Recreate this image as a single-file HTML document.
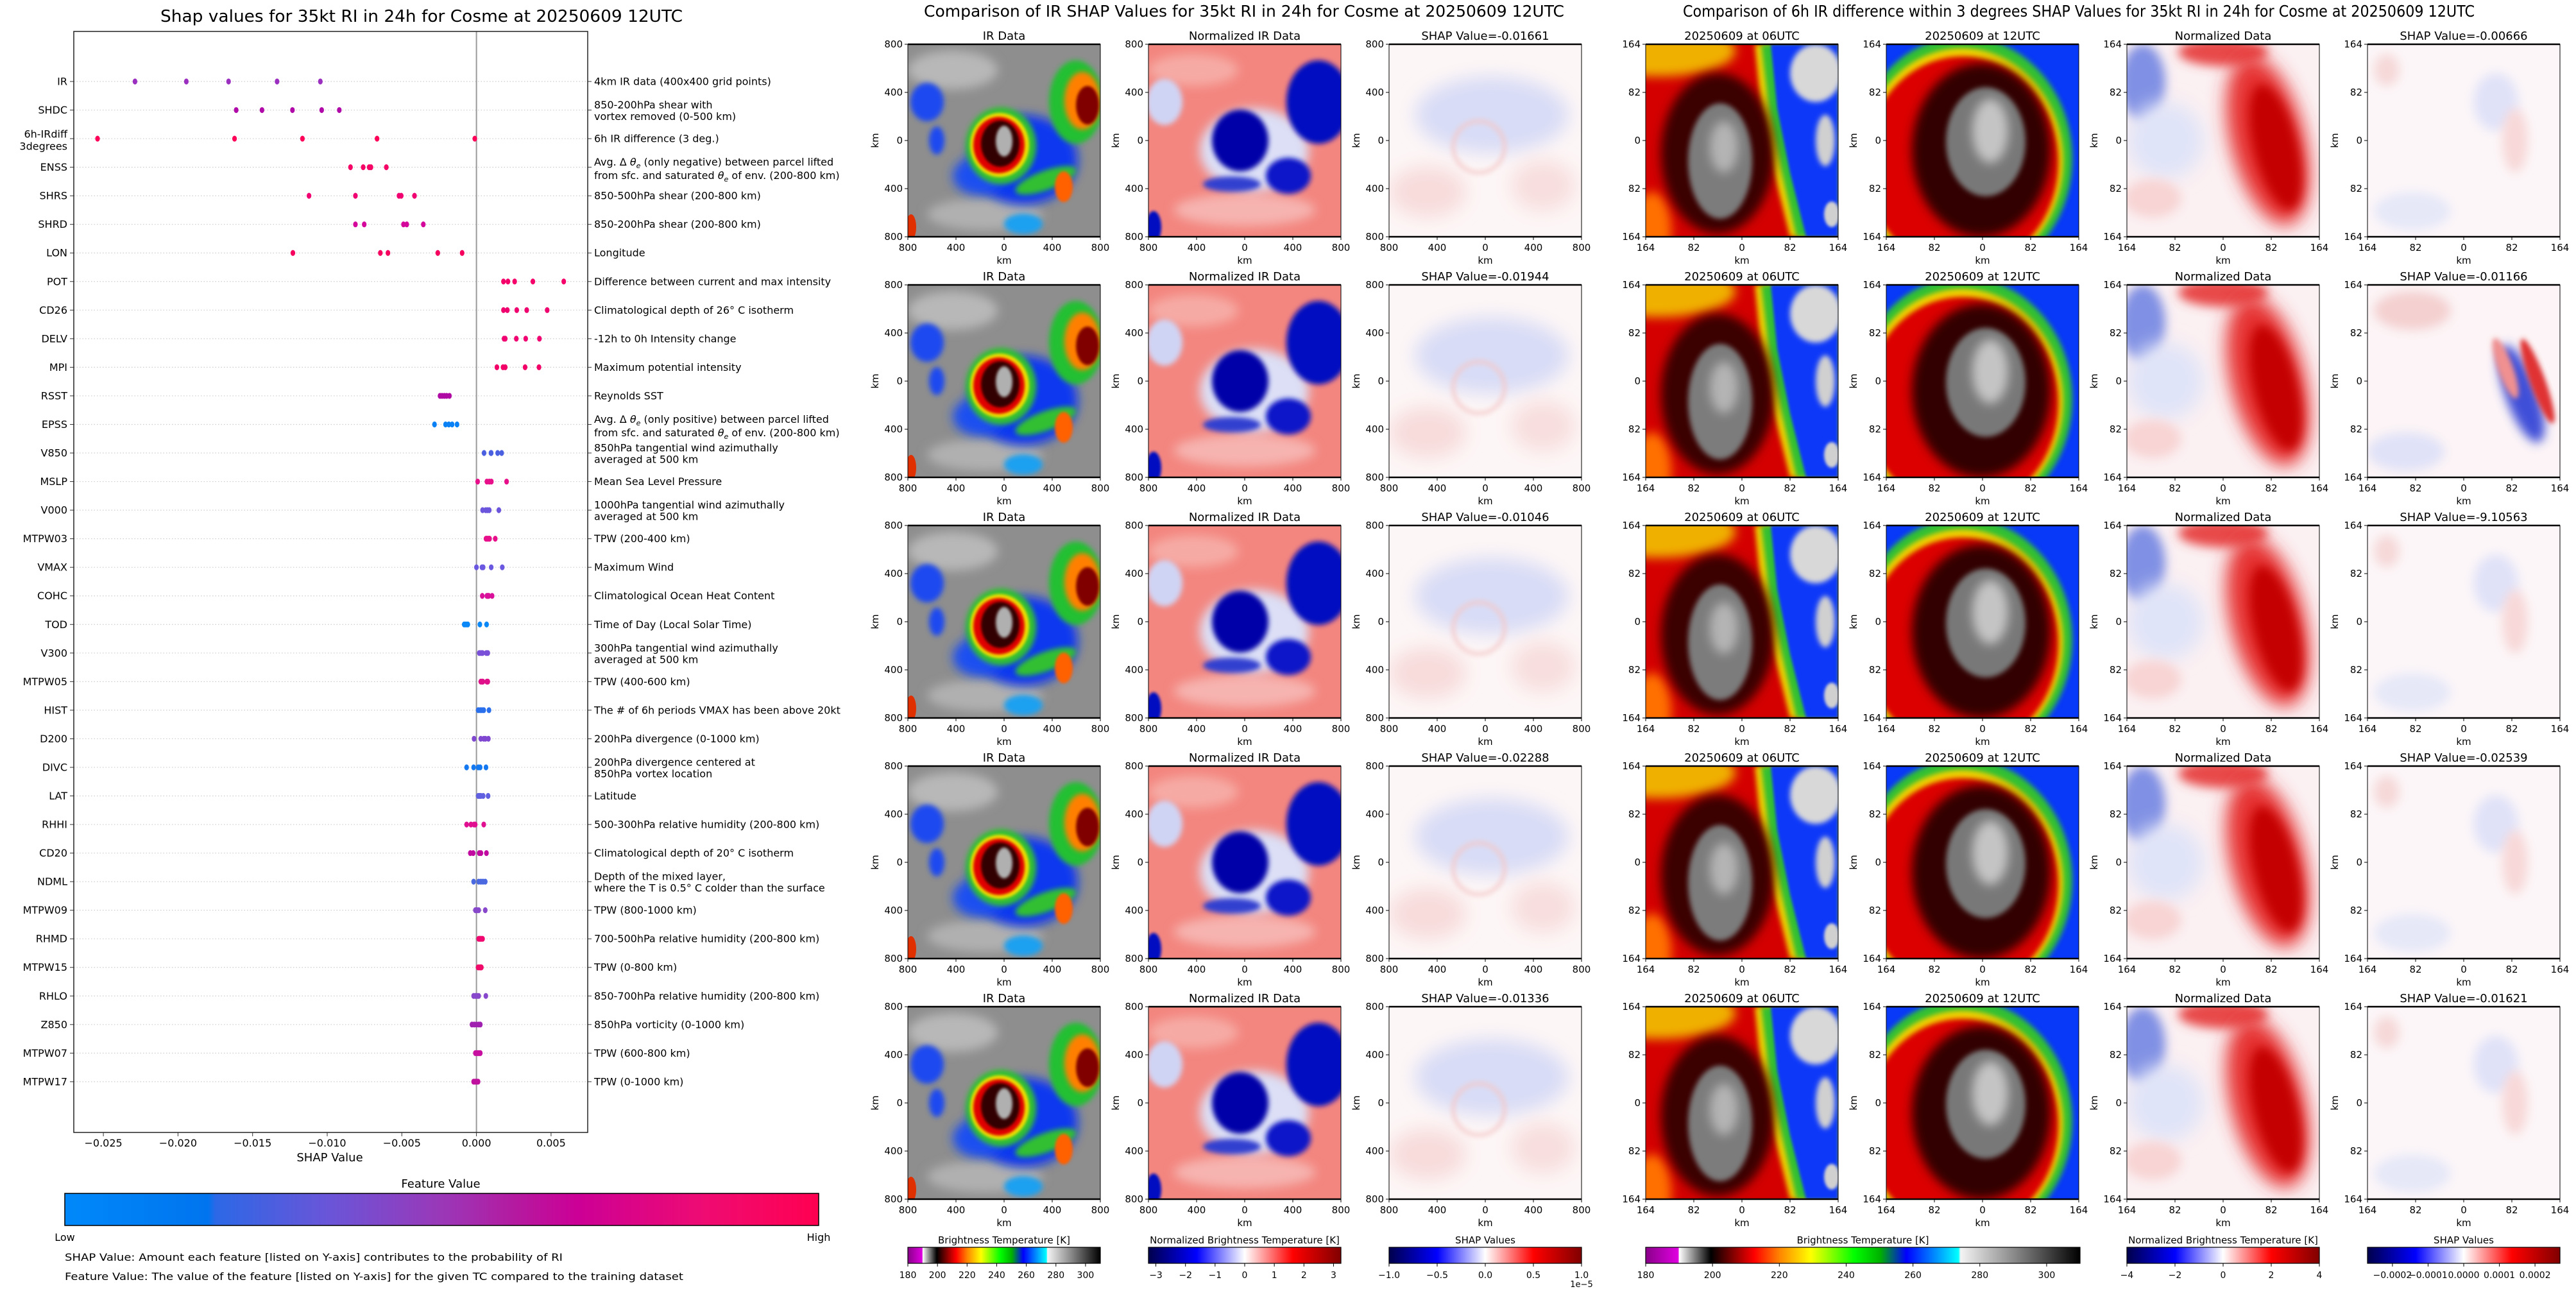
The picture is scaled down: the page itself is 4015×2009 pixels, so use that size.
<!DOCTYPE html>
<html><head><meta charset="utf-8"><title>SHAP RI chart</title>
<style>
html,body{margin:0;padding:0;background:#fff;}
svg{display:block;font-family:"DejaVu Sans","Liberation Sans",sans-serif;}
</style></head>
<body>
<svg id="fig" width="4015" height="2009" viewBox="0 0 4015 2009" xmlns="http://www.w3.org/2000/svg">
<defs>
<filter id="b2" x="-20%" y="-20%" width="140%" height="140%"><feGaussianBlur stdDeviation="2"/></filter>
<filter id="b4" x="-30%" y="-30%" width="160%" height="160%"><feGaussianBlur stdDeviation="4"/></filter>
<filter id="b8" x="-40%" y="-40%" width="180%" height="180%"><feGaussianBlur stdDeviation="8"/></filter>
<filter id="b14" x="-50%" y="-50%" width="200%" height="200%"><feGaussianBlur stdDeviation="14"/></filter>
<clipPath id="pclip"><rect width="300" height="300"/></clipPath>
<linearGradient id="gShap" x1="0" x2="1" y1="0" y2="0">
<stop offset="0" stop-color="#0089fa"/><stop offset="0.19" stop-color="#0074ee"/><stop offset="0.2" stop-color="#2c68e6"/>
<stop offset="0.35" stop-color="#6a55d8"/><stop offset="0.5" stop-color="#9a38b8"/><stop offset="0.6" stop-color="#b5199f"/>
<stop offset="0.68" stop-color="#cc0096"/><stop offset="0.85" stop-color="#ef0b72"/><stop offset="1" stop-color="#ff0051"/></linearGradient>
<linearGradient id="gBT" x1="0" x2="1" y1="0" y2="0">
<stop offset="0" stop-color="#8a008a"/><stop offset="0.075" stop-color="#e000e0"/><stop offset="0.077" stop-color="#ffffff"/>
<stop offset="0.15" stop-color="#000000"/><stop offset="0.25" stop-color="#ff0000"/><stop offset="0.31" stop-color="#ff8800"/>
<stop offset="0.38" stop-color="#ffff00"/><stop offset="0.48" stop-color="#00ff00"/><stop offset="0.54" stop-color="#00b000"/>
<stop offset="0.6" stop-color="#0000ff"/><stop offset="0.72" stop-color="#00ffff"/><stop offset="0.725" stop-color="#f4f4f4"/>
<stop offset="0.85" stop-color="#888888"/><stop offset="1" stop-color="#000000"/></linearGradient>
<linearGradient id="gSeis" x1="0" x2="1" y1="0" y2="0">
<stop offset="0" stop-color="#00004c"/><stop offset="0.25" stop-color="#0000ff"/><stop offset="0.5" stop-color="#ffffff"/>
<stop offset="0.75" stop-color="#ff0000"/><stop offset="1" stop-color="#800000"/></linearGradient>

<symbol id="irImg" viewBox="0 0 300 300">
<rect width="300" height="300" fill="#8e8e8e"/>
<ellipse cx="70" cy="40" rx="70" ry="30" fill="#b8b8b8" filter="url(#b8)"/>
<ellipse cx="120" cy="265" rx="90" ry="25" fill="#b0b0b0" filter="url(#b8)"/>
<ellipse cx="180" cy="180" rx="85" ry="70" fill="#1038f0" filter="url(#b8)"/>
<ellipse cx="110" cy="205" rx="40" ry="30" fill="#1a50f0" filter="url(#b8)"/>
<ellipse cx="30" cy="90" rx="26" ry="30" fill="#1a48f0" filter="url(#b4)"/>
<ellipse cx="180" cy="280" rx="30" ry="16" fill="#1aa0f0" filter="url(#b4)"/>
<ellipse cx="45" cy="150" rx="12" ry="22" fill="#1a48f0" filter="url(#b4)"/>
<ellipse cx="262" cy="90" rx="42" ry="65" fill="#20c030" filter="url(#b4)"/>
<ellipse cx="272" cy="88" rx="28" ry="45" fill="#ff8000" filter="url(#b4)"/>
<ellipse cx="280" cy="95" rx="18" ry="30" fill="#800000" filter="url(#b2)"/>
<ellipse cx="215" cy="212" rx="50" ry="15" transform="rotate(-20 215 212)" fill="#30c030" filter="url(#b4)"/>
<ellipse cx="243" cy="222" rx="14" ry="24" fill="#ff6000" filter="url(#b2)"/>
<ellipse cx="145" cy="158" rx="55" ry="60" fill="#30c030" filter="url(#b4)"/>
<ellipse cx="143" cy="157" rx="46" ry="50" fill="#f0e000" filter="url(#b2)"/>
<ellipse cx="142" cy="157" rx="40" ry="44" fill="#e00000" filter="url(#b2)"/>
<ellipse cx="144" cy="155" rx="30" ry="36" fill="#300000" filter="url(#b2)"/>
<ellipse cx="150" cy="151" rx="13" ry="24" fill="#b0b0b0" filter="url(#b2)"/>
<ellipse cx="5" cy="285" rx="8" ry="20" fill="#e03000"/>
</symbol>

<symbol id="normImg" viewBox="0 0 300 300">
<rect width="300" height="300" fill="#f3867f"/>
<ellipse cx="70" cy="40" rx="70" ry="25" fill="#f6aaa4" filter="url(#b8)"/>
<ellipse cx="150" cy="258" rx="110" ry="25" fill="#f6b4b0" filter="url(#b8)"/>
<ellipse cx="25" cy="90" rx="28" ry="36" fill="#d0d4f4" filter="url(#b4)"/>
<ellipse cx="165" cy="165" rx="85" ry="65" fill="#dcdff6" filter="url(#b8)"/>
<ellipse cx="265" cy="90" rx="50" ry="65" fill="#0010c0" filter="url(#b4)"/>
<ellipse cx="143" cy="150" rx="44" ry="48" fill="#0000a8" filter="url(#b4)"/>
<ellipse cx="218" cy="205" rx="35" ry="28" fill="#0818c8" filter="url(#b4)"/>
<ellipse cx="130" cy="218" rx="45" ry="12" fill="#3040d0" filter="url(#b4)"/>
<ellipse cx="8" cy="285" rx="12" ry="25" fill="#0010c0" filter="url(#b2)"/>
</symbol>

<symbol id="shapIrImg" viewBox="0 0 300 300">
<rect width="300" height="300" fill="#fdf6f6"/>
<ellipse cx="160" cy="110" rx="120" ry="60" fill="#d8dcf6" filter="url(#b14)"/>
<ellipse cx="60" cy="230" rx="60" ry="40" fill="#f8dcdc" filter="url(#b14)"/>
<ellipse cx="240" cy="220" rx="50" ry="40" fill="#f8dede" filter="url(#b14)"/>
<ellipse cx="140" cy="160" rx="40" ry="40" fill="none" stroke="#f4c8c8" stroke-width="5" filter="url(#b4)"/>
</symbol>

<symbol id="t06Img" viewBox="0 0 300 300">
<rect width="300" height="300" fill="#d40000"/>
<ellipse cx="20" cy="10" rx="120" ry="40" fill="#f0b000" filter="url(#b8)"/>
<ellipse cx="10" cy="290" rx="30" ry="60" fill="#ff7000" filter="url(#b8)"/>
<polygon points="170,0 300,0 300,300 225,300 200,200 180,100" fill="#f0d000" filter="url(#b4)"/>
<polygon points="180,0 300,0 300,300 235,300 212,200 192,100" fill="#30c030" filter="url(#b4)"/>
<polygon points="195,0 300,0 300,300 250,300 225,200 205,100" fill="#0838f8" filter="url(#b2)"/>
<ellipse cx="265" cy="45" rx="40" ry="45" fill="#d8d8d8" filter="url(#b4)"/>
<ellipse cx="280" cy="150" rx="15" ry="40" fill="#d0d0d0" filter="url(#b4)"/>
<ellipse cx="290" cy="265" rx="12" ry="20" fill="#d0d0d0" filter="url(#b2)"/>
<ellipse cx="112" cy="170" rx="88" ry="125" fill="#3a0000" filter="url(#b8)"/>
<ellipse cx="116" cy="182" rx="50" ry="90" fill="#7c7c7c" filter="url(#b4)"/>
<ellipse cx="122" cy="160" rx="22" ry="40" fill="#b4b4b4" filter="url(#b8)"/>
</symbol>

<symbol id="t12Img" viewBox="0 0 300 300">
<rect width="300" height="300" fill="#0838f8"/>
<ellipse cx="120" cy="178" rx="170" ry="190" fill="#30c030" filter="url(#b4)"/>
<ellipse cx="118" cy="182" rx="158" ry="176" fill="#f0d000" filter="url(#b4)"/>
<ellipse cx="118" cy="185" rx="150" ry="166" fill="#dc0000" filter="url(#b4)"/>
<ellipse cx="148" cy="165" rx="108" ry="135" fill="#320000" filter="url(#b8)"/>
<ellipse cx="155" cy="152" rx="62" ry="85" fill="#787878" filter="url(#b4)"/>
<ellipse cx="162" cy="135" rx="28" ry="50" fill="#c4c4c4" filter="url(#b8)"/>
</symbol>

<symbol id="normdImg" viewBox="0 0 300 300">
<rect width="300" height="300" fill="#fbf0f2"/>
<ellipse cx="25" cy="60" rx="35" ry="60" fill="#8090e4" filter="url(#b8)"/>
<ellipse cx="60" cy="150" rx="60" ry="60" fill="#e0e4f8" filter="url(#b14)"/>
<ellipse cx="150" cy="12" rx="70" ry="22" fill="#e84848" filter="url(#b8)"/>
<ellipse cx="40" cy="240" rx="45" ry="30" fill="#f8d4d4" filter="url(#b8)"/>
<ellipse cx="220" cy="150" rx="58" ry="135" transform="rotate(-14 220 150)" fill="#e63030" filter="url(#b14)"/>
<ellipse cx="232" cy="160" rx="34" ry="100" transform="rotate(-14 232 160)" fill="#c40000" filter="url(#b8)"/>
</symbol>

<symbol id="shap6Img" viewBox="0 0 300 300">
<rect width="300" height="300" fill="#fcf6f8"/>
<ellipse cx="200" cy="90" rx="35" ry="45" fill="#e0e2f8" filter="url(#b8)"/>
<ellipse cx="70" cy="260" rx="60" ry="30" fill="#e6e8f8" filter="url(#b8)"/>
<ellipse cx="230" cy="150" rx="20" ry="50" fill="#f8d8d8" filter="url(#b8)"/>
<ellipse cx="30" cy="40" rx="20" ry="25" fill="#f6d8d8" filter="url(#b8)"/>
</symbol>
<symbol id="shap6Strong" viewBox="0 0 300 300">
<rect width="300" height="300" fill="#fcf4f6"/>
<ellipse cx="70" cy="40" rx="60" ry="30" fill="#f4d0d0" filter="url(#b8)"/>
<ellipse cx="60" cy="260" rx="60" ry="30" fill="#e0e2f8" filter="url(#b8)"/>
<ellipse cx="240" cy="170" rx="25" ry="80" transform="rotate(-20 240 170)" fill="#4050d8" filter="url(#b8)"/>
<ellipse cx="265" cy="150" rx="12" ry="70" transform="rotate(-20 265 150)" fill="#e03030" filter="url(#b4)"/>
<ellipse cx="215" cy="130" rx="12" ry="50" transform="rotate(-20 215 130)" fill="#f09090" filter="url(#b4)"/>
</symbol>
</defs>
</svg>
<script>
// ---------------- Left chart data ----------------
const features = ["IR","SHDC","6h-IRdiff\n3degrees","ENSS","SHRS","SHRD","LON","POT","CD26","DELV","MPI","RSST","EPSS","V850","MSLP","V000","MTPW03","VMAX","COHC","TOD","V300","MTPW05","HIST","D200","DIVC","LAT","RHHI","CD20","NDML","MTPW09","RHMD","MTPW15","RHLO","Z850","MTPW07","MTPW17"];
const descriptions = [
 ["4km IR data (400x400 grid points)"],
 ["850-200hPa shear with","vortex removed (0-500 km)"],
 ["6h IR difference (3 deg.)"],
 ["Avg. Δ θe (only negative) between parcel lifted","from sfc. and saturated θe of env. (200-800 km)"],
 ["850-500hPa shear (200-800 km)"],
 ["850-200hPa shear (200-800 km)"],
 ["Longitude"],
 ["Difference between current and max intensity"],
 ["Climatological depth of 26° C isotherm"],
 ["-12h to 0h Intensity change"],
 ["Maximum potential intensity"],
 ["Reynolds SST"],
 ["Avg. Δ θe (only positive) between parcel lifted","from sfc. and saturated θe of env. (200-800 km)"],
 ["850hPa tangential wind azimuthally","averaged at 500 km"],
 ["Mean Sea Level Pressure"],
 ["1000hPa tangential wind azimuthally","averaged at 500 km"],
 ["TPW (200-400 km)"],
 ["Maximum Wind"],
 ["Climatological Ocean Heat Content"],
 ["Time of Day (Local Solar Time)"],
 ["300hPa tangential wind azimuthally","averaged at 500 km"],
 ["TPW (400-600 km)"],
 ["The # of 6h periods VMAX has been above 20kt"],
 ["200hPa divergence (0-1000 km)"],
 ["200hPa divergence centered at","850hPa vortex location"],
 ["Latitude"],
 ["500-300hPa relative humidity (200-800 km)"],
 ["Climatological depth of 20° C isotherm"],
 ["Depth of the mixed layer,","where the T is 0.5° C colder than the surface"],
 ["TPW (800-1000 km)"],
 ["700-500hPa relative humidity (200-800 km)"],
 ["TPW (0-800 km)"],
 ["850-700hPa relative humidity (200-800 km)"],
 ["850hPa vorticity (0-1000 km)"],
 ["TPW (600-800 km)"],
 ["TPW (0-1000 km)"]
];
const shapValues = [
 [-0.02288,-0.01944,-0.01661,-0.01336,-0.01046],
 [-0.0161,-0.01437,-0.01233,-0.01037,-0.00919],
 [-0.02539,-0.01621,-0.01166,-0.00666,-0.00011],
 [-0.00844,-0.00759,-0.00719,-0.00707,-0.00604],
 [-0.01122,-0.00811,-0.00519,-0.00504,-0.00415],
 [-0.00811,-0.00752,-0.00489,-0.00467,-0.00356],
 [-0.0123,-0.00644,-0.00593,-0.00259,-0.00096],
 [0.00181,0.00211,0.00256,0.00378,0.00585],
 [0.00181,0.00207,0.0027,0.00337,0.00474],
 [0.00185,0.00193,0.00267,0.0033,0.00422],
 [0.00137,0.00178,0.00193,0.00326,0.00419],
 [-0.00244,-0.0023,-0.00215,-0.002,-0.00181],
 [-0.00281,-0.00207,-0.00185,-0.00163,-0.0013],
 [0.00051,0.00097,0.00099,0.00142,0.00169],
 [0.00008,0.0007,0.00086,0.001,0.00202],
 [0.00041,0.00062,0.00074,0.00086,0.0015],
 [0.00064,0.00072,0.00082,0.00088,0.00126],
 [0.0,0.00037,0.00045,0.00099,0.00173],
 [0.00039,0.0007,0.00076,0.00082,0.00105],
 [-0.00082,-0.0007,-0.00058,0.00023,0.00068],
 [0.00019,0.00031,0.00041,0.00066,0.00076],
 [0.00029,0.00037,0.00043,0.0007,0.00076],
 [0.00012,0.00025,0.00037,0.00049,0.00084],
 [-0.00016,0.00029,0.00049,0.0006,0.0008],
 [-0.00066,-0.00019,0.00012,0.00025,0.00064],
 [0.00012,0.00021,0.00029,0.00045,0.00078],
 [-0.00066,-0.00037,-0.00016,-0.00008,0.00049],
 [-0.00041,-0.00022,0.00019,0.0003,0.00067],
 [-0.00019,0.00015,0.0003,0.00044,0.00059],
 [-0.00007,0.0,0.00004,0.00015,0.00059],
 [0.00015,0.00022,0.00026,0.00033,0.00041],
 [0.00011,0.00018,0.00025,0.0003,0.00033],
 [-0.00019,-0.00007,0.00004,0.00015,0.00063],
 [-0.0003,-0.00015,0.0,0.00015,0.00026],
 [-0.00007,0.00004,0.00011,0.00019,0.00026],
 [-0.00019,-0.00011,-0.00004,0.00004,0.00011]
];
const dotColors = ["#9b30c0","#b00aa8","#ff0058","#f50566","#f00070","#d4089a","#f5005f","#f5006a","#f0006e","#f00070","#f20068","#b00aa5","#0a82f5","#4a60e0","#e8108a","#6a55dc","#e8108a","#6a58e0","#d8109a","#0a88f8","#7a50d8","#e0108a","#2a70ec","#8048d0","#1478f0","#6060e0","#e01090","#c00aa0","#4a68e0","#8848cc","#f00870","#f00a6a","#8848cc","#a020b0","#c810a0","#c0109e"];
const xTicks = [-0.025,-0.02,-0.015,-0.01,-0.005,0.0,0.005];
const xTickLabels = ["\u22120.025","\u22120.020","\u22120.015","\u22120.010","\u22120.005","0.000","0.005"];

// ---------------- Right panels data ----------------
const irShapLabels = ["-0.01661","-0.01944","-0.01046","-0.02288","-0.01336"];
const diffShapLabels = ["-0.00666","-0.01166","-9.10563","-0.02539","-0.01621"];
const irAxisTicks = ["800","400","0","400","800"];
const diffAxisTicks = ["164","82","0","82","164"];
const btTicks = [180,200,220,240,260,280,300];
const normIrTicks = [-3,-2,-1,0,1,2,3];
const shapIrTicks = [-1.0,-0.5,0.0,0.5,1.0];
const normDiffTicks = [-4,-2,0,2,4];
const shapDiffTicks = [-0.0002,-0.0001,0.0,0.0001,0.0002];

const NS = "http://www.w3.org/2000/svg";
const svg = document.getElementById("fig");
function mk(tag, attrs, parent) {
  const e = document.createElementNS(NS, tag);
  for (const k in attrs) e.setAttribute(k, attrs[k]);
  (parent || svg).appendChild(e);
  return e;
}
function txt(s, attrs, parent) {
  const t = mk("text", attrs, parent);
  t.textContent = s;
  return t;
}

const AX = {left:115, right:916, top:49, bottom:1765};
const xZero = 742.6, pxPer = 116.3 / 0.005;
function xScale(v) { return xZero + v * pxPer; }
function yScale(i) { return 127 + i * 44.54; }

const left = mk("g", {});



const lt = txt("Shap values for 35kt RI in 24h for Cosme at 20250609 12UTC", {x:657, y:34, "text-anchor":"middle", "font-size":26, textLength:814, lengthAdjust:"spacingAndGlyphs"}, left);



features.forEach((f, i) => {
  const y = yScale(i);
  const g = mk("line", {x1:AX.left, x2:AX.right, y1:y, y2:y, stroke:"#cccccc", "stroke-width":1.2, "stroke-dasharray":"1.5,3"}, left);
  
  
  mk("line", {x1:AX.left-6, x2:AX.left, y1:y, y2:y, stroke:"#333"}, left);
  mk("line", {x1:AX.right, x2:AX.right+6, y1:y, y2:y, stroke:"#333"}, left);
  const lines = f.split("\n");
  const lab = txt("", {x:105, y:y, "text-anchor":"end", "font-size":16, fill:"#000"}, left);
  
  
  if (lines.length === 1) { lab.setAttribute("dy", "5.5"); lab.textContent = lines[0]; }
  else {
    lines.forEach((ln, k) => { const ts = mk("tspan", {x:105, y: y - 7 + k * 19 + 5.5}, lab); ts.textContent = ln; });
  }
  const desc = descriptions[i];
  const dt = mk("text", {x:926, y:y, "font-size":16, fill:"#000"}, left);
  
  
  const gap = desc.some(d => d.indexOf("θe") >= 0) ? 21 : 18;
  desc.forEach((ln, k) => {
    const yy = desc.length === 1 ? y + 5.5 : y - 8 + k * gap + 5.5;
    const parts = ln.split("θe");
    const ts = mk("tspan", {x:926, y:yy}, dt); ts.textContent = parts[0];
    for (let p = 1; p < parts.length; p++) {
      const th = mk("tspan", {"font-style":"italic"}, dt); th.textContent = "θ";
      const sub = mk("tspan", {"font-style":"italic", "font-size":11, dy:4}, dt); sub.textContent = "e";
      const rest = mk("tspan", {dy:-4}, dt); rest.textContent = parts[p];
    }
  });
});

const zl = mk("line", {x1:xScale(0), x2:xScale(0), y1:AX.top, y2:AX.bottom, stroke:"#999999", "stroke-width":2}, left);



shapValues.forEach((vals, i) => {
  vals.forEach(v => {
    const d = mk("ellipse", {cx:xScale(v), cy:yScale(i), rx:3.6, ry:4.6, fill:dotColors[i]}, left);
    
    
  });
});

const frame = mk("rect", {x:AX.left, y:AX.top, width:AX.right-AX.left, height:AX.bottom-AX.top, fill:"none", stroke:"#222", "stroke-width":1.5}, left);



xTicks.forEach((t, k) => {
  const x = xScale(t);
  mk("line", {x1:x, x2:x, y1:AX.bottom, y2:AX.bottom+6, stroke:"#333"}, left);
  const tl = txt(xTickLabels[k], {x:x, y:1787, "text-anchor":"middle", "font-size":16}, left);
  
  
});
const xt = txt("SHAP Value", {x:514, y:1810, "text-anchor":"middle", "font-size":18}, left);



const fvt = txt("Feature Value", {x:687, y:1851, "text-anchor":"middle", "font-size":18}, left);


const cb = mk("rect", {x:101, y:1860, width:1175, height:50, fill:"url(#gShap)", stroke:"#000", "stroke-width":1.5}, left);


const low = txt("Low", {x:101, y:1934, "text-anchor":"middle", "font-size":16}, left);


const high = txt("High", {x:1276, y:1934, "text-anchor":"middle", "font-size":16}, left);


const n1 = txt("SHAP Value: Amount each feature [listed on Y-axis] contributes to the probability of RI", {x:101, y:1965, "font-size":16, textLength:776, lengthAdjust:"spacingAndGlyphs"}, left);


const n2 = txt("Feature Value: The value of the feature [listed on Y-axis] for the given TC compared to the training dataset", {x:101, y:1995, "font-size":16, textLength:964, lengthAdjust:"spacingAndGlyphs"}, left);



const t1 = txt("Comparison of IR SHAP Values for 35kt RI in 24h for Cosme at 20250609 12UTC", {x:1939, y:26, "text-anchor":"middle", "font-size":25, textLength:998, lengthAdjust:"spacingAndGlyphs"});


const t2 = txt("Comparison of 6h IR difference within 3 degrees SHAP Values for 35kt RI in 24h for Cosme at 20250609 12UTC", {x:3240, y:26, "text-anchor":"middle", "font-size":25, textLength:1234, lengthAdjust:"spacingAndGlyphs"});



const panelXs = [1415, 1790, 2165, 2565, 2940, 3315, 3690];
function panel(x, y, sym, title, ticks, showYLabel) {
  const g = mk("g", {transform:"translate(" + x + "," + y + ")"});
  
  
  const u = mk("use", {href:"#" + sym, width:300, height:300, "clip-path":"url(#pclip)"}, g);
  
  
  mk("rect", {x:0, y:0, width:300, height:300, fill:"none", stroke:"#000", "stroke-width":1}, g);
  mk("line", {x1:0, x2:300, y1:0, y2:0, stroke:"#000", "stroke-width":2.5}, g);
  mk("line", {x1:0, x2:300, y1:300, y2:300, stroke:"#000", "stroke-width":2.5}, g);
  const tt = txt(title, {x:150, y:-7, "text-anchor":"middle", "font-size":18}, g);
  
  
  ticks.forEach((lbl, k) => {
    const p = k * 75;
    mk("line", {x1:p, x2:p, y1:300, y2:305, stroke:"#000"}, g);
    mk("line", {x1:-5, x2:0, y1:p, y2:p, stroke:"#000"}, g);
    const a = txt(lbl, {x:p, y:322, "text-anchor":"middle", "font-size":15}, g);
    
    
    const b = txt(lbl, {x:-8, y:p + 5, "text-anchor":"end", "font-size":15}, g);
    
    
  });
  const xl = txt("km", {x:150, y:342, "text-anchor":"middle", "font-size":15}, g);
  
  
  if (showYLabel) {
    const yl = txt("km", {x:0, y:0, "text-anchor":"middle", "font-size":15, transform:"translate(-46,150) rotate(-90)"}, g);
    
    
  }
}
for (let r = 0; r < 5; r++) {
  const y = 69 + r * 375;
  panel(panelXs[0], y, "irImg", "IR Data", irAxisTicks, true);
  panel(panelXs[1], y, "normImg", "Normalized IR Data", irAxisTicks, true);
  panel(panelXs[2], y, "shapIrImg", "SHAP Value=" + irShapLabels[r], irAxisTicks, true);
  panel(panelXs[3], y, "t06Img", "20250609 at 06UTC", diffAxisTicks, false);
  panel(panelXs[4], y, "t12Img", "20250609 at 12UTC", diffAxisTicks, true);
  panel(panelXs[5], y, "normdImg", "Normalized Data", diffAxisTicks, true);
  panel(panelXs[6], y, r === 1 ? "shap6Strong" : "shap6Img", "SHAP Value=" + diffShapLabels[r], diffAxisTicks, true);
}

function colorbar(x, w, grad, title, ticks, lo, hi, fmt) {
  const g = mk("g", {});
  
  
  const ct = txt(title, {x:x + w / 2, y:1938, "text-anchor":"middle", "font-size":15}, g);
  
  
  mk("rect", {x:x, y:1944, width:w, height:25, fill:"url(#" + grad + ")", stroke:"#000", "stroke-width":1.2}, g);
  ticks.forEach(t => {
    const px = x + (t - lo) / (hi - lo) * w;
    mk("line", {x1:px, x2:px, y1:1969, y2:1974, stroke:"#000"}, g);
    const tl = txt(fmt(t), {x:px, y:1992, "text-anchor":"middle", "font-size":14}, g);
    
    
  });
}
const minus = s => s.replace("-", "\u2212");
colorbar(1415, 300, "gBT", "Brightness Temperature [K]", btTicks, 180, 310, t => String(t));
colorbar(1790, 300, "gSeis", "Normalized Brightness Temperature [K]", normIrTicks, -3.25, 3.25, t => minus(String(t)));
colorbar(2165, 300, "gSeis", "SHAP Values", shapIrTicks, -1, 1, t => minus(t.toFixed(1)));
const ex = txt("1e\u22125", {x:2465, y:2006, "text-anchor":"middle", "font-size":13});


colorbar(2565, 677, "gBT", "Brightness Temperature [K]", btTicks, 180, 310, t => String(t));
colorbar(3315, 300, "gSeis", "Normalized Brightness Temperature [K]", normDiffTicks, -4, 4, t => minus(String(t)));
colorbar(3690, 300, "gSeis", "SHAP Values", shapDiffTicks, -0.00027, 0.00027, t => minus(t.toFixed(4)));
</script>
</body></html>
